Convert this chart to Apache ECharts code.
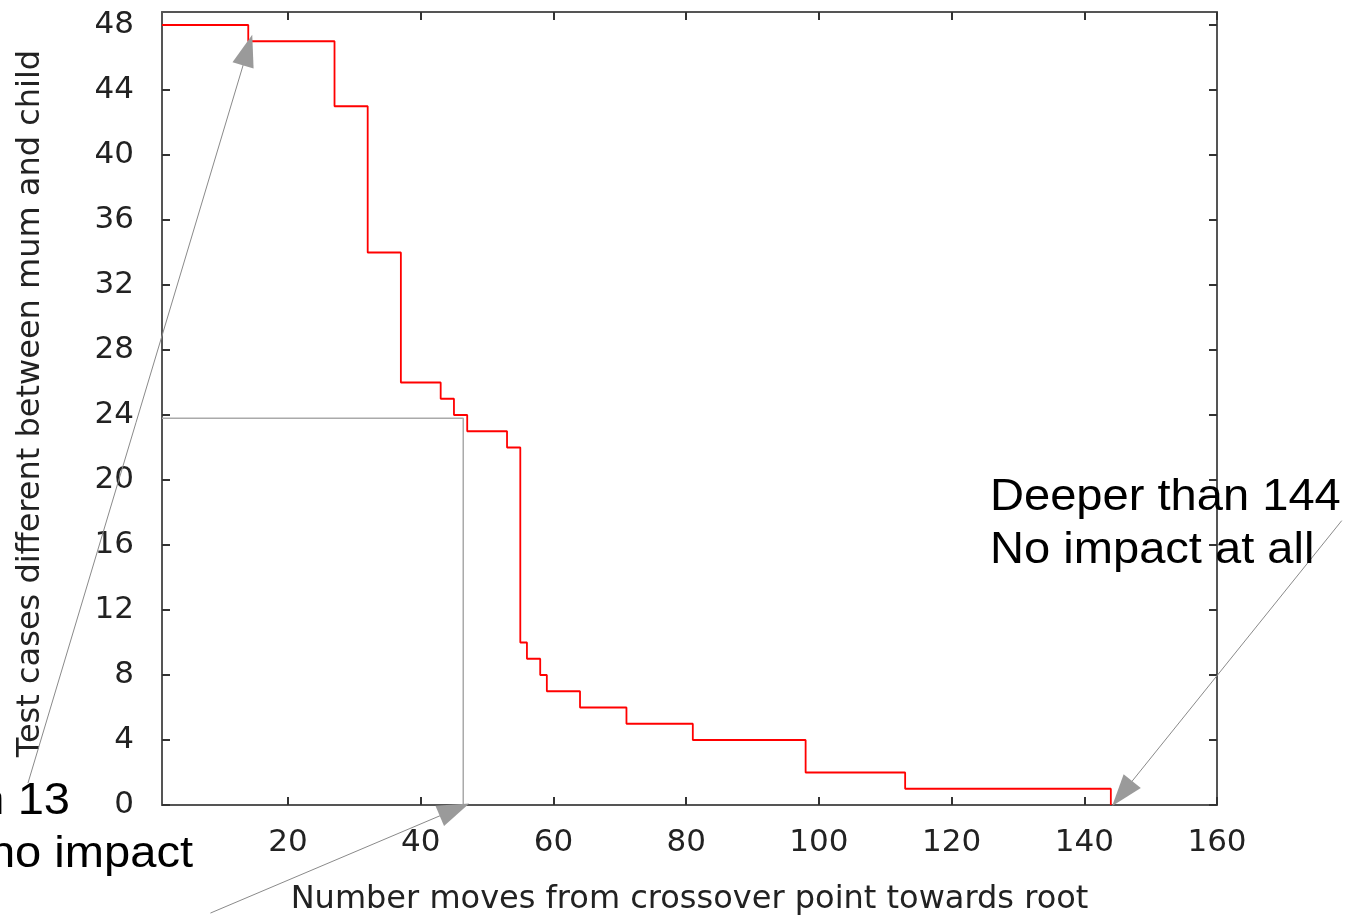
<!DOCTYPE html>
<html><head><meta charset="utf-8">
<script src="https://cdn.jsdelivr.net/npm/echarts@6/dist/echarts.min.js"></script>
<style>html,body{margin:0;padding:0;background:#fff}#c{width:1350px;height:915px}</style>
</head><body><div id="c"></div>
<script>
// Step data: value holds from x[i] until x[i+1]
const stepX = [1, 14, 27, 32, 37, 43, 45, 47, 53, 55, 56, 58, 59, 64, 71, 81, 98, 113, 144];
const stepY = [48, 47, 43, 34, 26, 25, 24, 23, 22, 10, 9, 8, 7, 6, 5, 4, 2, 1, 0];
const xTicks = [20, 40, 60, 80, 100, 120, 140, 160];
const yTicks = [0, 4, 8, 12, 16, 20, 24, 28, 32, 36, 40, 44, 48];
// Annotation guide (data coordinates)
const guideX = [1, 46.4, 46.4];
const guideY = [23.8, 23.8, 0];
const arrowFrom = [[-19.2, 1.35], [8.3, -6.65], [178.8, 17.5]];
const arrowTo = [[14.6, 47.4], [47.3, 0.1], [144.2, -0.06]];
const noteLeft = ['n 13', 'no impact'];
const noteRight = ['Deeper than 144', 'No impact at all'];

const xName = 'Number moves from crossover point towards root';
const yName = 'Test cases different between mum and child';

const chart = echarts.init(document.getElementById('c'), null, {renderer: 'canvas'});
const FONT = 'DejaVu Sans';
const frame = {show: true, onZero: false, lineStyle: {color: '#555', width: 2}};
const tickStyle = {lineStyle: {color: '#333', width: 2}};

chart.setOption({
  animation: false,
  backgroundColor: '#fff',
  grid: {left: 162, right: 133, top: 12, bottom: 110, containLabel: false, outerBoundsMode: 'none'},
  xAxis: [
    {type: 'value', min: 1, max: 160, position: 'bottom',
     axisLine: frame,
     axisTick: Object.assign({show: true, inside: true, length: 8, customValues: xTicks}, tickStyle),
     axisLabel: {show: true, customValues: xTicks, fontFamily: FONT, fontSize: 31, color: '#222', margin: 22},
     splitLine: {show: false},
     name: xName, nameLocation: 'middle', nameGap: 79,
     nameTextStyle: {fontFamily: FONT, fontSize: 32, color: '#222'}},
    {type: 'value', min: 1, max: 160, position: 'top',
     axisLine: frame,
     axisTick: Object.assign({show: true, inside: true, length: 8, customValues: xTicks}, tickStyle),
     axisLabel: {show: false}, splitLine: {show: false}}
  ],
  yAxis: [
    {type: 'value', min: 0, max: 48.8, position: 'left',
     axisLine: frame,
     axisTick: Object.assign({show: true, inside: true, length: 8, customValues: yTicks}, tickStyle),
     axisLabel: {show: true, customValues: yTicks, fontFamily: FONT, fontSize: 31, color: '#222', margin: 28},
     splitLine: {show: false},
     name: yName, nameLocation: 'middle', nameGap: 115,
     nameTextStyle: {fontFamily: FONT, fontSize: 32, color: '#222', padding: [0, 0, 0, 10]}},
    {type: 'value', min: 0, max: 48.8, position: 'right',
     axisLine: frame,
     axisTick: Object.assign({show: true, inside: true, length: 8, customValues: yTicks}, tickStyle),
     axisLabel: {show: false}, splitLine: {show: false}}
  ],
  series: [
    {type: 'line', name: 'guide', xAxisIndex: 0, yAxisIndex: 0, z: 1,
     data: guideX.map((x, i) => [x, guideY[i]]),
     showSymbol: false, symbol: 'none',
     lineStyle: {color: '#aaa', width: 1.5}},
    {type: 'line', name: 'diff', xAxisIndex: 0, yAxisIndex: 0, z: 3,
     step: 'end',
     data: stepX.map((x, i) => [x, stepY[i]]),
     showSymbol: false, symbol: 'none',
     lineStyle: {color: '#ff0000', width: 1.8}}
  ]
});

function px(p) { return chart.convertToPixel({xAxisIndex: 0, yAxisIndex: 0}, p); }
const graphics = [];
arrowFrom.forEach((f, i) => {
  const a = px(f), b = px(arrowTo[i]);
  const dx = b[0] - a[0], dy = b[1] - a[1];
  const L = Math.hypot(dx, dy), ux = dx / L, uy = dy / L;
  const len = 32, hw = 11;
  const bx = b[0] - ux * len, by = b[1] - uy * len;
  graphics.push({type: 'line', z: 10, shape: {x1: a[0], y1: a[1], x2: bx + ux * 4, y2: by + uy * 4},
    style: {stroke: '#8a8a8a', lineWidth: 1}});
  graphics.push({type: 'polygon', z: 11, shape: {points: [[b[0], b[1]], [bx - uy * hw, by + ux * hw], [bx + uy * hw, by - ux * hw]]},
    style: {fill: '#9a9a9a', stroke: null}});
});
const noteFont = '44px "Liberation Sans", Arial, sans-serif';
graphics.push({type: 'text', z: 12, x: 990, y: 498, scaleX: 1.07,
  style: {text: noteRight[0], font: noteFont, fill: '#000', verticalAlign: 'middle', align: 'left'}});
graphics.push({type: 'text', z: 12, x: 990, y: 551, scaleX: 1.07,
  style: {text: noteRight[1], font: noteFont, fill: '#000', verticalAlign: 'middle', align: 'left'}});
graphics.push({type: 'text', z: 12, x: 70, y: 802, scaleX: 1.07,
  style: {text: noteLeft[0], font: noteFont, fill: '#000', verticalAlign: 'middle', align: 'right'}});
graphics.push({type: 'text', z: 12, x: 193, y: 855, scaleX: 1.07,
  style: {text: noteLeft[1], font: noteFont, fill: '#000', verticalAlign: 'middle', align: 'right'}});
chart.setOption({graphic: graphics});
</script></body></html>
